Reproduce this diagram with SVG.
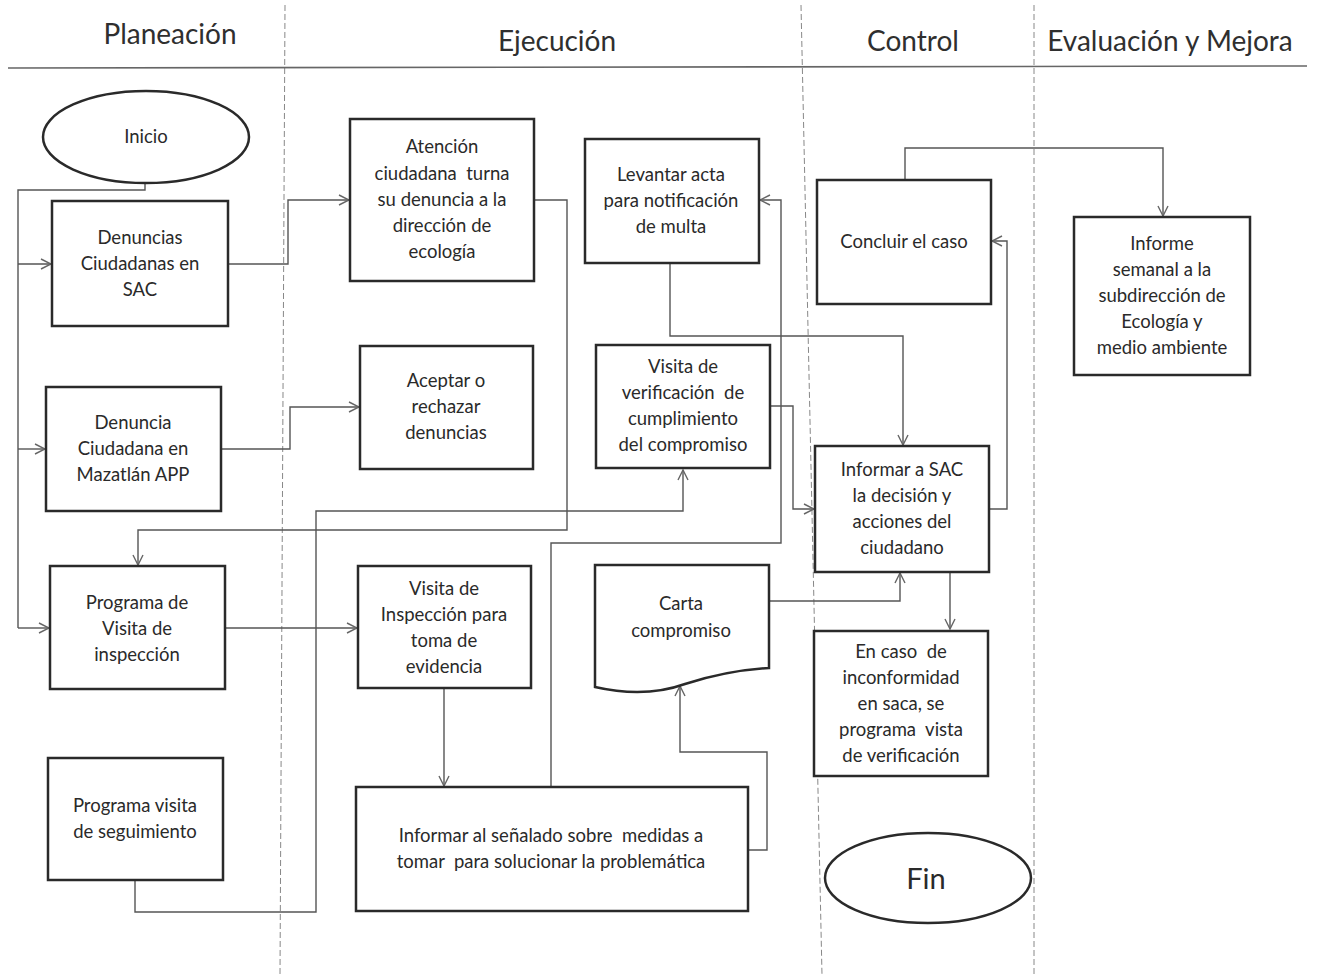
<svg xmlns="http://www.w3.org/2000/svg" width="1321" height="975" viewBox="0 0 1321 975">
<defs>
<marker id="ar" viewBox="0 0 12 12" refX="11" refY="6" markerWidth="12" markerHeight="12" markerUnits="userSpaceOnUse" orient="auto">
<path d="M1,1 L11,6 L1,11" fill="none" stroke="#666" stroke-width="1.4"/>
</marker>
</defs>
<style>
.box{fill:#fff;stroke:#2a2a2a;stroke-width:2.5}
.t{font-family:Lato,"Open Sans",sans-serif;font-size:18.5px;fill:#2a2a2a;text-anchor:middle;white-space:pre}
.h{font-family:Lato,"Open Sans",sans-serif;font-size:28px;fill:#2f2f2f;text-anchor:middle}
.c{fill:none;stroke:#555;stroke-width:1.4}
.ca{fill:none;stroke:#555;stroke-width:1.4;marker-end:url(#ar)}
.lane{stroke:#888;stroke-width:1;stroke-dasharray:6,3}
</style>
<rect width="1321" height="975" fill="#fff"/>
<g id="lanes">
<line class="lane" x1="285" y1="5" x2="280" y2="975"/>
<line class="lane" x1="801" y1="5" x2="822" y2="975"/>
<line class="lane" x1="1034" y1="5" x2="1034" y2="975"/>
<line x1="8" y1="68" x2="1307" y2="66" stroke="#666" stroke-width="1.6"/>
<text class="h" x="170" y="44">Planeación</text>
<text class="h" x="557" y="51">Ejecución</text>
<text class="h" x="913" y="51">Control</text>
<text class="h" x="1170" y="51">Evaluación y Mejora</text>
</g>
<g id="connectors">
<path class="c" d="M145,184 V190 H18 V628"/>
<path class="ca" d="M18,264 H51"/>
<path class="ca" d="M18,449 H45"/>
<path class="ca" d="M18,628 H49"/>
<path class="ca" d="M228,264 H288 V200 H349"/>
<path class="ca" d="M221,449 H290 V407 H359"/>
<path class="ca" d="M534,200 H567 V530 H138 V565"/>
<path class="ca" d="M225,628 H357"/>
<path class="ca" d="M444,688 V786"/>
<path class="ca" d="M135,880 V912 H316 V511 H683 V470"/>
<path class="ca" d="M551,787 V543 H781 V200 H760"/>
<path class="ca" d="M748,850 H767 V752 H680 V686"/>
<path class="ca" d="M769,601 H900 V573"/>
<path class="ca" d="M670,263 V336 H903 V445"/>
<path class="ca" d="M770,406 H793 V509 H814"/>
<path class="ca" d="M989,509 H1007 V241 H992"/>
<path class="ca" d="M905,180 V148 H1163 V216"/>
<path class="ca" d="M950,572 V629"/>
</g>
<g id="inicio">
<ellipse class="box" cx="146" cy="137" rx="103" ry="46"/>
<text class="t" x="146" y="143">Inicio</text>
</g>
<g id="denuncias-sac">
<rect class="box" x="52" y="201" width="176" height="125"/>
<text class="t" x="140" y="244">Denuncias</text>
<text class="t" x="140" y="270">Ciudadanas en</text>
<text class="t" x="140" y="296">SAC</text>
</g>
<g id="denuncia-app">
<rect class="box" x="46" y="387" width="175" height="124"/>
<text class="t" x="133" y="429">Denuncia</text>
<text class="t" x="133" y="455">Ciudadana en</text>
<text class="t" x="133" y="481">Mazatlán APP</text>
</g>
<g id="programa-inspeccion">
<rect class="box" x="50" y="566" width="175" height="123"/>
<text class="t" x="137" y="609">Programa de</text>
<text class="t" x="137" y="635">Visita de</text>
<text class="t" x="137" y="661">inspección</text>
</g>
<g id="programa-seguimiento">
<rect class="box" x="48" y="758" width="175" height="122"/>
<text class="t" x="135" y="812">Programa visita</text>
<text class="t" x="135" y="838">de seguimiento</text>
</g>
<g id="atencion">
<rect class="box" x="350" y="119" width="184" height="162"/>
<text class="t" x="442" y="153">Atención</text>
<text class="t" x="442" y="180" xml:space="preserve">ciudadana  turna</text>
<text class="t" x="442" y="206">su denuncia a la</text>
<text class="t" x="442" y="232">dirección de</text>
<text class="t" x="442" y="258">ecología</text>
</g>
<g id="aceptar">
<rect class="box" x="360" y="346" width="173" height="123"/>
<text class="t" x="446" y="387">Aceptar o</text>
<text class="t" x="446" y="413">rechazar</text>
<text class="t" x="446" y="439">denuncias</text>
</g>
<g id="visita-inspeccion">
<rect class="box" x="358" y="566" width="173" height="122"/>
<text class="t" x="444" y="595">Visita de</text>
<text class="t" x="444" y="621">Inspección para</text>
<text class="t" x="444" y="647">toma de</text>
<text class="t" x="444" y="673">evidencia</text>
</g>
<g id="informar-senalado">
<rect class="box" x="356" y="787" width="392" height="124"/>
<text class="t" x="551" y="842" xml:space="preserve">Informar al señalado sobre  medidas a</text>
<text class="t" x="551" y="868" xml:space="preserve">tomar  para solucionar la problemática</text>
</g>
<g id="levantar-acta">
<rect class="box" x="585" y="139" width="174" height="124"/>
<text class="t" x="671" y="181">Levantar acta</text>
<text class="t" x="671" y="207">para notificación</text>
<text class="t" x="671" y="233">de multa</text>
</g>
<g id="visita-verificacion">
<rect class="box" x="596" y="345" width="174" height="123"/>
<text class="t" x="683" y="373">Visita de</text>
<text class="t" x="683" y="399" xml:space="preserve">verificación  de</text>
<text class="t" x="683" y="425">cumplimiento</text>
<text class="t" x="683" y="451">del compromiso</text>
</g>
<g id="carta">
<path class="box" d="M595,565 H769 V668 C735,670 710,676 685,684 C660,693 630,695 595,687 Z"/>
<text class="t" x="681" y="610">Carta</text>
<text class="t" x="681" y="637">compromiso</text>
</g>
<g id="concluir">
<rect class="box" x="817" y="180" width="174" height="124"/>
<text class="t" x="904" y="248">Concluir el caso</text>
</g>
<g id="informar-sac">
<rect class="box" x="815" y="446" width="174" height="126"/>
<text class="t" x="902" y="476">Informar a SAC</text>
<text class="t" x="902" y="502">la decisión y</text>
<text class="t" x="902" y="528">acciones del</text>
<text class="t" x="902" y="554">ciudadano</text>
</g>
<g id="en-caso">
<rect class="box" x="814" y="631" width="174" height="145"/>
<text class="t" x="901" y="658" xml:space="preserve">En caso  de</text>
<text class="t" x="901" y="684">inconformidad</text>
<text class="t" x="901" y="710">en saca, se</text>
<text class="t" x="901" y="736" xml:space="preserve">programa  vista</text>
<text class="t" x="901" y="762">de verificación</text>
</g>
<g id="fin">
<ellipse class="box" cx="928" cy="878" rx="103" ry="45"/>
<text class="t" x="926" y="889" style="font-size:29px">Fin</text>
</g>
<g id="informe">
<rect class="box" x="1074" y="217" width="176" height="158"/>
<text class="t" x="1162" y="250">Informe</text>
<text class="t" x="1162" y="276">semanal a la</text>
<text class="t" x="1162" y="302">subdirección de</text>
<text class="t" x="1162" y="328">Ecología y</text>
<text class="t" x="1162" y="354">medio ambiente</text>
</g>
</svg>
